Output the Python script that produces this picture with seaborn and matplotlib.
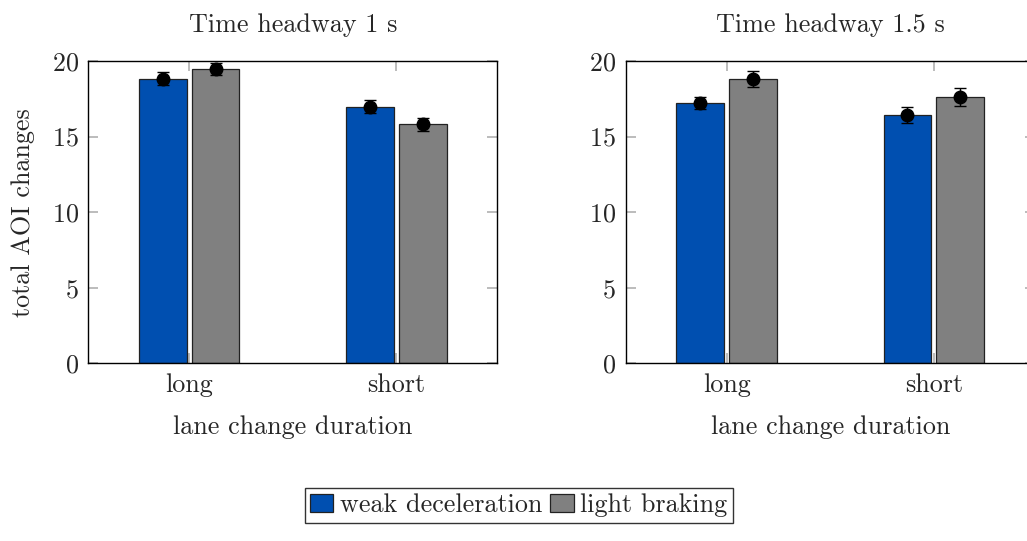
import matplotlib
matplotlib.use("Agg")
import matplotlib.pyplot as plt
import seaborn as sns
import pandas as pd
import numpy as np
from matplotlib.patches import Patch

durations = ["long", "short"]
conditions = ["weak deceleration", "light braking"]
# Time headway 1 s
th1_weak = [18.83, 16.98]
th1_light = [19.47, 15.83]
th1_weak_err = [0.42, 0.44]
th1_light_err = [0.40, 0.43]
# Time headway 1.5 s
th15_weak = [17.20, 16.41]
th15_light = [18.83, 17.62]
th15_weak_err = [0.40, 0.53]
th15_light_err = [0.53, 0.61]

titles = ["Time headway 1 s", "Time headway 1.5 s"]
colors = ["#004fb0", "#808080"]

sns.set_theme(style="white")
plt.rcParams["font.family"] = ["cmr10", "DejaVu Serif"]
plt.rcParams["axes.formatter.use_mathtext"] = True
plt.rcParams["mathtext.fontset"] = "cm"
FS = 18.8

fig = plt.figure(figsize=(10.27, 5.41), dpi=100)
ax1 = fig.add_axes([88.3 / 1027, 177.6 / 541, 409 / 1027, 302.4 / 541])
ax2 = fig.add_axes([625.7 / 1027, 177.6 / 541, 409 / 1027, 302.4 / 541])

panels = [
    (ax1, th1_weak, th1_light, th1_weak_err, th1_light_err),
    (ax2, th15_weak, th15_light, th15_weak_err, th15_light_err),
]

for i, (ax, w, l, we, le) in enumerate(panels):
    df = pd.DataFrame({
        "duration": durations * 2,
        "condition": [conditions[0]] * 2 + [conditions[1]] * 2,
        "value": w + l,
        "err": we + le,
    })
    sns.barplot(data=df, x="duration", y="value", hue="condition",
                order=durations, hue_order=conditions, palette=colors,
                width=0.508, gap=0.09, errorbar=None, saturation=1,
                edgecolor="#222222", linewidth=0.9, legend=False, ax=ax)
    patches = [p for p in ax.patches]
    vals = w + l
    errs = we + le
    xs = [p.get_x() + p.get_width() / 2 for p in patches]
    ax.errorbar(xs, vals, yerr=errs, fmt="o", color="black", ms=9,
                capsize=4.5, elinewidth=1.0, capthick=1.0, zorder=5)
    ax.set_xlim(-0.487, 1.487)
    ax.set_ylim(0, 20)
    ax.set_yticks([0, 5, 10, 15, 20])
    ax.set_title(titles[i], fontsize=FS, pad=21)
    ax.set_xlabel("lane change duration", fontsize=FS, labelpad=13)
    if i == 0:
        ax.set_ylabel("total AOI changes", fontsize=FS, labelpad=12)
    else:
        ax.set_ylabel("")
    for s in ax.spines.values():
        s.set_visible(True)
        s.set_color("black")
        s.set_linewidth(1.0)
    ax.tick_params(axis="both", which="major", direction="in", length=7,
                   width=1.2, color="#b0b0b0", labelsize=FS,
                   top=True, right=True, bottom=True, left=True,
                   labeltop=False, labelright=False, pad=7)
    ax.grid(False)

handles = [Patch(facecolor=colors[0], edgecolor="#222222", linewidth=0.9),
           Patch(facecolor=colors[1], edgecolor="#222222", linewidth=0.9)]
leg = fig.legend(handles, conditions, loc="center", bbox_to_anchor=(0.505, 0.0656),
                 ncol=2, fontsize=FS, frameon=True, fancybox=False,
                 edgecolor="black", handlelength=0.9, handleheight=0.65,
                 handletextpad=0.25, columnspacing=0.3, borderpad=0.2,
                 borderaxespad=0)
leg.get_frame().set_linewidth(1.0)

fig.savefig("out.png", dpi=100)
